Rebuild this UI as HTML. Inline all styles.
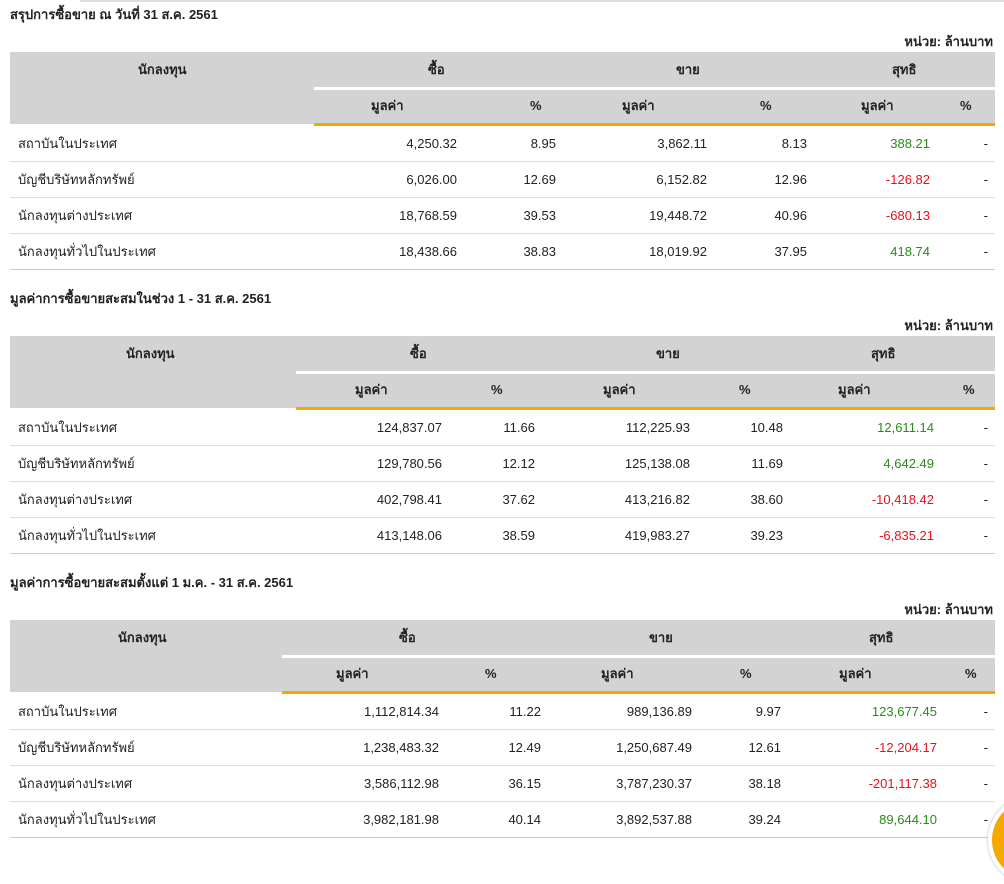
<!DOCTYPE html>
<html><head><meta charset="utf-8"><style>
body{margin:0;width:1004px;height:844px;overflow:hidden;background:#fff;position:relative;font-family:"Liberation Sans","Noto Sans CJK SC","WenQuanYi Zen Hei",sans-serif;font-size:13px;color:#222}
div{position:absolute;white-space:nowrap}
.t{font-weight:bold;font-size:13px;height:18px;line-height:18px}
.h{background:#d3d3d3}
.w{background:#fff;height:3px}
.o{background:#f5a800;height:3px}
.l{background:#ddd;height:1px;left:10px;width:985px}
.b{font-weight:bold;height:36px;line-height:36px}
.c{height:36px;line-height:36px}
.g{color:#2a8a1a}.r{color:#e8101a}
</style></head><body>
<div style="left:80px;top:0;width:924px;height:2px;background:#ddd"></div>

<!-- TABLE 1 -->
<div class="t" style="left:10px;top:6px">สรุปการซื้อขาย ณ วันที่ 31 ส.ค. 2561</div>
<div class="t" style="right:11px;top:33px">หน่วย: ล้านบาท</div>
<div class="h" style="left:10px;top:52px;width:985px;height:72px"></div>
<div class="w" style="left:314px;top:87px;width:681px"></div>
<div class="o" style="left:314px;top:123px;width:681px"></div>
<div class="b" style="left:138px;top:52px">นักลงทุน</div>
<div class="b" style="left:428px;top:52px">ซื้อ</div>
<div class="b" style="left:676px;top:52px">ขาย</div>
<div class="b" style="left:892px;top:52px">สุทธิ</div>
<div class="b" style="left:371px;top:88px">มูลค่า</div>
<div class="b" style="left:530px;top:88px">%</div>
<div class="b" style="left:622px;top:88px">มูลค่า</div>
<div class="b" style="left:760px;top:88px">%</div>
<div class="b" style="left:861px;top:88px">มูลค่า</div>
<div class="b" style="left:960px;top:88px">%</div>
<div class="c" style="left:18px;top:126px">สถาบันในประเทศ</div>
<div class="c" style="left:18px;top:162px">บัญชีบริษัทหลักทรัพย์</div>
<div class="c" style="left:18px;top:198px">นักลงทุนต่างประเทศ</div>
<div class="c" style="left:18px;top:234px">นักลงทุนทั่วไปในประเทศ</div>
<div class="c" style="right:547px;top:126px">4,250.32</div><div class="c" style="right:448px;top:126px">8.95</div><div class="c" style="right:297px;top:126px">3,862.11</div><div class="c" style="right:197px;top:126px">8.13</div><div class="c g" style="right:74px;top:126px">388.21</div><div class="c" style="right:16px;top:126px">-</div>
<div class="c" style="right:547px;top:162px">6,026.00</div><div class="c" style="right:448px;top:162px">12.69</div><div class="c" style="right:297px;top:162px">6,152.82</div><div class="c" style="right:197px;top:162px">12.96</div><div class="c r" style="right:74px;top:162px">-126.82</div><div class="c" style="right:16px;top:162px">-</div>
<div class="c" style="right:547px;top:198px">18,768.59</div><div class="c" style="right:448px;top:198px">39.53</div><div class="c" style="right:297px;top:198px">19,448.72</div><div class="c" style="right:197px;top:198px">40.96</div><div class="c r" style="right:74px;top:198px">-680.13</div><div class="c" style="right:16px;top:198px">-</div>
<div class="c" style="right:547px;top:234px">18,438.66</div><div class="c" style="right:448px;top:234px">38.83</div><div class="c" style="right:297px;top:234px">18,019.92</div><div class="c" style="right:197px;top:234px">37.95</div><div class="c g" style="right:74px;top:234px">418.74</div><div class="c" style="right:16px;top:234px">-</div>
<div class="l" style="top:161px"></div><div class="l" style="top:197px"></div><div class="l" style="top:233px"></div><div class="l" style="top:269px;background:#ccc"></div>

<!-- TABLE 2 -->
<div class="t" style="left:10px;top:290px">มูลค่าการซื้อขายสะสมในช่วง 1 - 31 ส.ค. 2561</div>
<div class="t" style="right:11px;top:317px">หน่วย: ล้านบาท</div>
<div class="h" style="left:10px;top:336px;width:985px;height:72px"></div>
<div class="w" style="left:296px;top:371px;width:699px"></div>
<div class="o" style="left:296px;top:407px;width:699px"></div>
<div class="b" style="left:126px;top:336px">นักลงทุน</div>
<div class="b" style="left:410px;top:336px">ซื้อ</div>
<div class="b" style="left:656px;top:336px">ขาย</div>
<div class="b" style="left:871px;top:336px">สุทธิ</div>
<div class="b" style="left:355px;top:372px">มูลค่า</div>
<div class="b" style="left:491px;top:372px">%</div>
<div class="b" style="left:603px;top:372px">มูลค่า</div>
<div class="b" style="left:739px;top:372px">%</div>
<div class="b" style="left:838px;top:372px">มูลค่า</div>
<div class="b" style="left:963px;top:372px">%</div>
<div class="c" style="left:18px;top:410px">สถาบันในประเทศ</div>
<div class="c" style="left:18px;top:446px">บัญชีบริษัทหลักทรัพย์</div>
<div class="c" style="left:18px;top:482px">นักลงทุนต่างประเทศ</div>
<div class="c" style="left:18px;top:518px">นักลงทุนทั่วไปในประเทศ</div>
<div class="c" style="right:562px;top:410px">124,837.07</div><div class="c" style="right:469px;top:410px">11.66</div><div class="c" style="right:314px;top:410px">112,225.93</div><div class="c" style="right:221px;top:410px">10.48</div><div class="c g" style="right:70px;top:410px">12,611.14</div><div class="c" style="right:16px;top:410px">-</div>
<div class="c" style="right:562px;top:446px">129,780.56</div><div class="c" style="right:469px;top:446px">12.12</div><div class="c" style="right:314px;top:446px">125,138.08</div><div class="c" style="right:221px;top:446px">11.69</div><div class="c g" style="right:70px;top:446px">4,642.49</div><div class="c" style="right:16px;top:446px">-</div>
<div class="c" style="right:562px;top:482px">402,798.41</div><div class="c" style="right:469px;top:482px">37.62</div><div class="c" style="right:314px;top:482px">413,216.82</div><div class="c" style="right:221px;top:482px">38.60</div><div class="c r" style="right:70px;top:482px">-10,418.42</div><div class="c" style="right:16px;top:482px">-</div>
<div class="c" style="right:562px;top:518px">413,148.06</div><div class="c" style="right:469px;top:518px">38.59</div><div class="c" style="right:314px;top:518px">419,983.27</div><div class="c" style="right:221px;top:518px">39.23</div><div class="c r" style="right:70px;top:518px">-6,835.21</div><div class="c" style="right:16px;top:518px">-</div>
<div class="l" style="top:445px"></div><div class="l" style="top:481px"></div><div class="l" style="top:517px"></div><div class="l" style="top:553px;background:#ccc"></div>

<!-- TABLE 3 -->
<div class="t" style="left:10px;top:574px">มูลค่าการซื้อขายสะสมตั้งแต่ 1 ม.ค. - 31 ส.ค. 2561</div>
<div class="t" style="right:11px;top:601px">หน่วย: ล้านบาท</div>
<div class="h" style="left:10px;top:620px;width:985px;height:72px"></div>
<div class="w" style="left:282px;top:655px;width:713px"></div>
<div class="o" style="left:282px;top:691px;width:713px"></div>
<div class="b" style="left:118px;top:620px">นักลงทุน</div>
<div class="b" style="left:399px;top:620px">ซื้อ</div>
<div class="b" style="left:649px;top:620px">ขาย</div>
<div class="b" style="left:869px;top:620px">สุทธิ</div>
<div class="b" style="left:336px;top:656px">มูลค่า</div>
<div class="b" style="left:485px;top:656px">%</div>
<div class="b" style="left:601px;top:656px">มูลค่า</div>
<div class="b" style="left:740px;top:656px">%</div>
<div class="b" style="left:839px;top:656px">มูลค่า</div>
<div class="b" style="left:965px;top:656px">%</div>
<div class="c" style="left:18px;top:694px">สถาบันในประเทศ</div>
<div class="c" style="left:18px;top:730px">บัญชีบริษัทหลักทรัพย์</div>
<div class="c" style="left:18px;top:766px">นักลงทุนต่างประเทศ</div>
<div class="c" style="left:18px;top:802px">นักลงทุนทั่วไปในประเทศ</div>
<div class="c" style="right:565px;top:694px">1,112,814.34</div><div class="c" style="right:463px;top:694px">11.22</div><div class="c" style="right:312px;top:694px">989,136.89</div><div class="c" style="right:223px;top:694px">9.97</div><div class="c g" style="right:67px;top:694px">123,677.45</div><div class="c" style="right:16px;top:694px">-</div>
<div class="c" style="right:565px;top:730px">1,238,483.32</div><div class="c" style="right:463px;top:730px">12.49</div><div class="c" style="right:312px;top:730px">1,250,687.49</div><div class="c" style="right:223px;top:730px">12.61</div><div class="c r" style="right:67px;top:730px">-12,204.17</div><div class="c" style="right:16px;top:730px">-</div>
<div class="c" style="right:565px;top:766px">3,586,112.98</div><div class="c" style="right:463px;top:766px">36.15</div><div class="c" style="right:312px;top:766px">3,787,230.37</div><div class="c" style="right:223px;top:766px">38.18</div><div class="c r" style="right:67px;top:766px">-201,117.38</div><div class="c" style="right:16px;top:766px">-</div>
<div class="c" style="right:565px;top:802px">3,982,181.98</div><div class="c" style="right:463px;top:802px">40.14</div><div class="c" style="right:312px;top:802px">3,892,537.88</div><div class="c" style="right:223px;top:802px">39.24</div><div class="c g" style="right:67px;top:802px">89,644.10</div><div class="c" style="right:16px;top:802px">-</div>
<div class="l" style="top:729px"></div><div class="l" style="top:765px"></div><div class="l" style="top:801px"></div><div class="l" style="top:837px;background:#ccc"></div>

<div style="left:988px;top:796px;width:80px;height:80px;border-radius:50%;background:#f5a800;border:4px solid #fff;box-shadow:0 0 3px #bbb"></div>
</body></html>
